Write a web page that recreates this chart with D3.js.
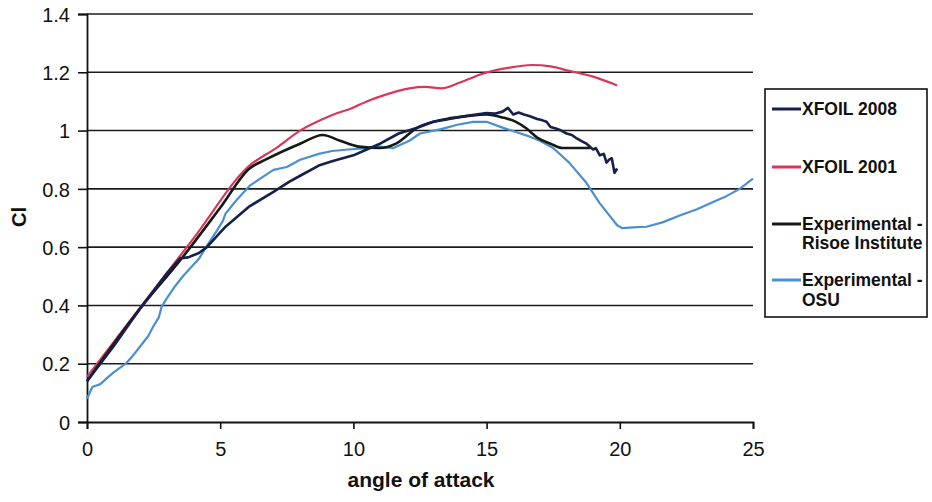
<!DOCTYPE html>
<html>
<head>
<meta charset="utf-8">
<script src="https://cdnjs.cloudflare.com/ajax/libs/d3/7.8.5/d3.min.js"></script>
<style>
  body { margin: 0; background: #fff; }
  text { font-family: "Liberation Sans", Arial, sans-serif; fill: #111; }
  .grid line { stroke: #1c1c1c; stroke-width: 1.6px; }
</style>
</head>
<body>
<div id="container"></div>
<script>
var width = 932;
var height = 502;

// angle of attack (deg) / lift coefficient
var xfoil2008Alpha = [0, 1, 2, 3, 3.5, 3.8, 4.2, 4.5, 5.2, 6.1, 7.0, 7.6, 8.0, 8.7, 9.2, 10.0, 10.5, 11.0, 11.7, 12.4, 13.0, 13.6, 14.2, 14.6, 15.0, 15.3, 15.6, 15.8, 16.0, 16.2, 16.4, 16.6, 16.9, 17.1, 17.25, 17.4, 17.6, 17.8, 18.0, 18.2, 18.4, 18.6, 18.75, 19.0, 19.1, 19.25, 19.4, 19.5, 19.6, 19.7, 19.8, 19.9];
var xfoil2008Cl    = [0.14, 0.26, 0.39, 0.51, 0.562, 0.565, 0.58, 0.60, 0.67, 0.74, 0.79, 0.825, 0.845, 0.88, 0.895, 0.915, 0.935, 0.955, 0.99, 1.01, 1.03, 1.04, 1.05, 1.055, 1.06, 1.058, 1.065, 1.078, 1.055, 1.062, 1.055, 1.05, 1.04, 1.035, 1.03, 1.012, 1.007, 1.0, 0.99, 0.985, 0.972, 0.962, 0.955, 0.935, 0.94, 0.915, 0.92, 0.89, 0.9, 0.905, 0.855, 0.87];

var xfoil2001Alpha = [0, 2, 4, 6.1, 7.1, 8.0, 8.75, 9.4, 9.9, 10.5, 11.1, 12.1, 12.7, 13.3, 14.0, 14.85, 15.8, 16.7, 17.4, 18.1, 19.0, 19.9];
var xfoil2001Cl    = [0.155, 0.393, 0.63, 0.88, 0.94, 1.0, 1.035, 1.06, 1.075, 1.1, 1.12, 1.145, 1.15, 1.145, 1.165, 1.195, 1.215, 1.225, 1.22, 1.205, 1.185, 1.155];

var risoeAlpha = [0, 2, 3.5, 5.0, 6.1, 6.7, 8.0, 8.85, 9.5, 10.2, 11.0, 11.6, 12.4, 13.5, 14.3, 15.0, 15.6, 16.1, 16.5, 16.9, 17.4, 17.85, 18.9];
var risoeCl    = [0.14, 0.39, 0.555, 0.735, 0.87, 0.90, 0.955, 0.985, 0.965, 0.945, 0.94, 0.955, 1.01, 1.04, 1.05, 1.055, 1.045, 1.03, 1.007, 0.976, 0.955, 0.94, 0.94];

var osuAlpha = [0, 0.2, 0.5, 0.8, 1.0, 1.45, 1.7, 2.0, 2.3, 2.5, 2.7, 2.8, 3.0, 3.3, 3.6, 3.95, 4.2, 4.47, 4.9, 5.1, 5.2, 5.6, 6.1, 6.5, 7.0, 7.5, 8.0, 8.7, 9.2, 9.8, 10.5, 11.0, 11.5, 12.1, 12.5, 13.3, 13.9, 14.5, 15.0, 15.6, 16.1, 16.6, 17.0, 17.5, 18.1, 18.75, 19.25, 19.9, 20.1, 20.5, 21.0, 21.6, 22.3, 22.9, 23.5, 24.0, 24.5, 25.0];
var osuCl    = [0.08, 0.12, 0.13, 0.155, 0.17, 0.2, 0.225, 0.26, 0.295, 0.33, 0.36, 0.395, 0.425, 0.465, 0.5, 0.535, 0.56, 0.6, 0.66, 0.69, 0.715, 0.76, 0.81, 0.835, 0.865, 0.875, 0.90, 0.92, 0.93, 0.935, 0.94, 0.945, 0.94, 0.965, 0.99, 1.005, 1.02, 1.03, 1.03, 1.01, 0.995, 0.98, 0.965, 0.94, 0.89, 0.82, 0.75, 0.675, 0.665, 0.668, 0.67, 0.685, 0.71, 0.73, 0.755, 0.775, 0.80, 0.835];

var xTicks = [0, 5, 10, 15, 20, 25];
var yTicks = [0, 0.2, 0.4, 0.6, 0.8, 1, 1.2, 1.4];

var seriesNames = ["XFOIL 2008", "XFOIL 2001", "Experimental - Risoe Institute", "Experimental - OSU"];
var seriesColors = ["#17204a", "#d9375a", "#141a14", "#4a8fd0"];

var x = d3.scaleLinear().domain([0, 25]).range([87, 753]);
var y = d3.scaleLinear().domain([0, 1.4]).range([422, 14]);

var svg = d3.select("#container")
  .append("svg")
  .attr("width", width)
  .attr("height", height);

// horizontal gridlines
svg.append("g")
  .attr("class", "grid")
  .selectAll("line")
  .data(yTicks.slice(1))
  .enter().append("line")
  .attr("x1", x(0))
  .attr("x2", x(25))
  .attr("y1", function(d) { return y(d); })
  .attr("y2", function(d) { return y(d); });

var xAxis = svg.append("g")
  .attr("transform", "translate(0," + y(0) + ")")
  .call(d3.axisBottom(x).tickValues(xTicks).tickSize(7).tickPadding(13).tickFormat(d3.format("~g")));

var yAxis = svg.append("g")
  .attr("transform", "translate(" + x(0) + ",0)")
  .call(d3.axisLeft(y).tickValues(yTicks).tickSize(9).tickPadding(8).tickFormat(d3.format("~g")));

[xAxis, yAxis].forEach(function(a) {
  a.select(".domain").attr("stroke", "#111").attr("stroke-width", 1.8);
  a.selectAll(".tick line").attr("stroke", "#111").attr("stroke-width", 1.6);
  a.selectAll(".tick text").style("font-size", "20px").attr("fill", "#111");
});
yAxis.selectAll(".tick text").attr("dy", "0.36em");

var line = d3.line()
  .x(function(d) { return x(d[0]); })
  .y(function(d) { return y(d[1]); });

var smooth = d3.line()
  .curve(d3.curveMonotoneX)
  .x(function(d) { return x(d[0]); })
  .y(function(d) { return y(d[1]); });

function pairs(a, b) { return a.map(function(v, i) { return [v, b[i]]; }); }

svg.append("path").datum(pairs(osuAlpha, osuCl))
  .attr("d", line).attr("fill", "none")
  .attr("stroke", seriesColors[3]).attr("stroke-width", 2.2).attr("stroke-linejoin", "round");

svg.append("path").datum(pairs(xfoil2001Alpha, xfoil2001Cl))
  .attr("d", smooth).attr("fill", "none")
  .attr("stroke", seriesColors[1]).attr("stroke-width", 2.2);

svg.append("path").datum(pairs(risoeAlpha, risoeCl))
  .attr("d", smooth).attr("fill", "none")
  .attr("stroke", seriesColors[2]).attr("stroke-width", 2.6);

svg.append("path").datum(pairs(xfoil2008Alpha, xfoil2008Cl))
  .attr("d", line).attr("fill", "none")
  .attr("stroke", seriesColors[0]).attr("stroke-width", 2.6).attr("stroke-linejoin", "round");

// axis titles
svg.append("text")
  .attr("x", 421).attr("y", 487)
  .attr("text-anchor", "middle")
  .style("font-size", "21px").style("font-weight", "bold")
  .text("angle of attack");

svg.append("text")
  .attr("transform", "translate(26,217)rotate(-90)")
  .attr("text-anchor", "middle")
  .style("font-size", "20px").style("font-weight", "bold")
  .text("Cl");

// legend
var legend = svg.append("g");
legend.append("rect")
  .attr("x", 765).attr("y", 89)
  .attr("width", 162).attr("height", 228)
  .attr("fill", "#fff").attr("stroke", "#111").attr("stroke-width", 1.6);

var legendRows = [[109], [167], [224, 243], [280, 300]];
var legendText = [["XFOIL 2008"], ["XFOIL 2001"], ["Experimental -", "Risoe Institute"], ["Experimental -", "OSU"]];

legendRows.forEach(function(rows, i) {
  legend.append("line")
    .attr("x1", 772).attr("x2", 801)
    .attr("y1", rows[0]).attr("y2", rows[0])
    .attr("stroke", seriesColors[i]).attr("stroke-width", 3);
  rows.forEach(function(ry, j) {
    legend.append("text")
      .attr("x", 802).attr("y", ry).attr("dy", "0.36em")
      .style("font-size", "17.5px").style("font-weight", "bold")
      .text(legendText[i][j]);
  });
});
</script>
</body>
</html>
